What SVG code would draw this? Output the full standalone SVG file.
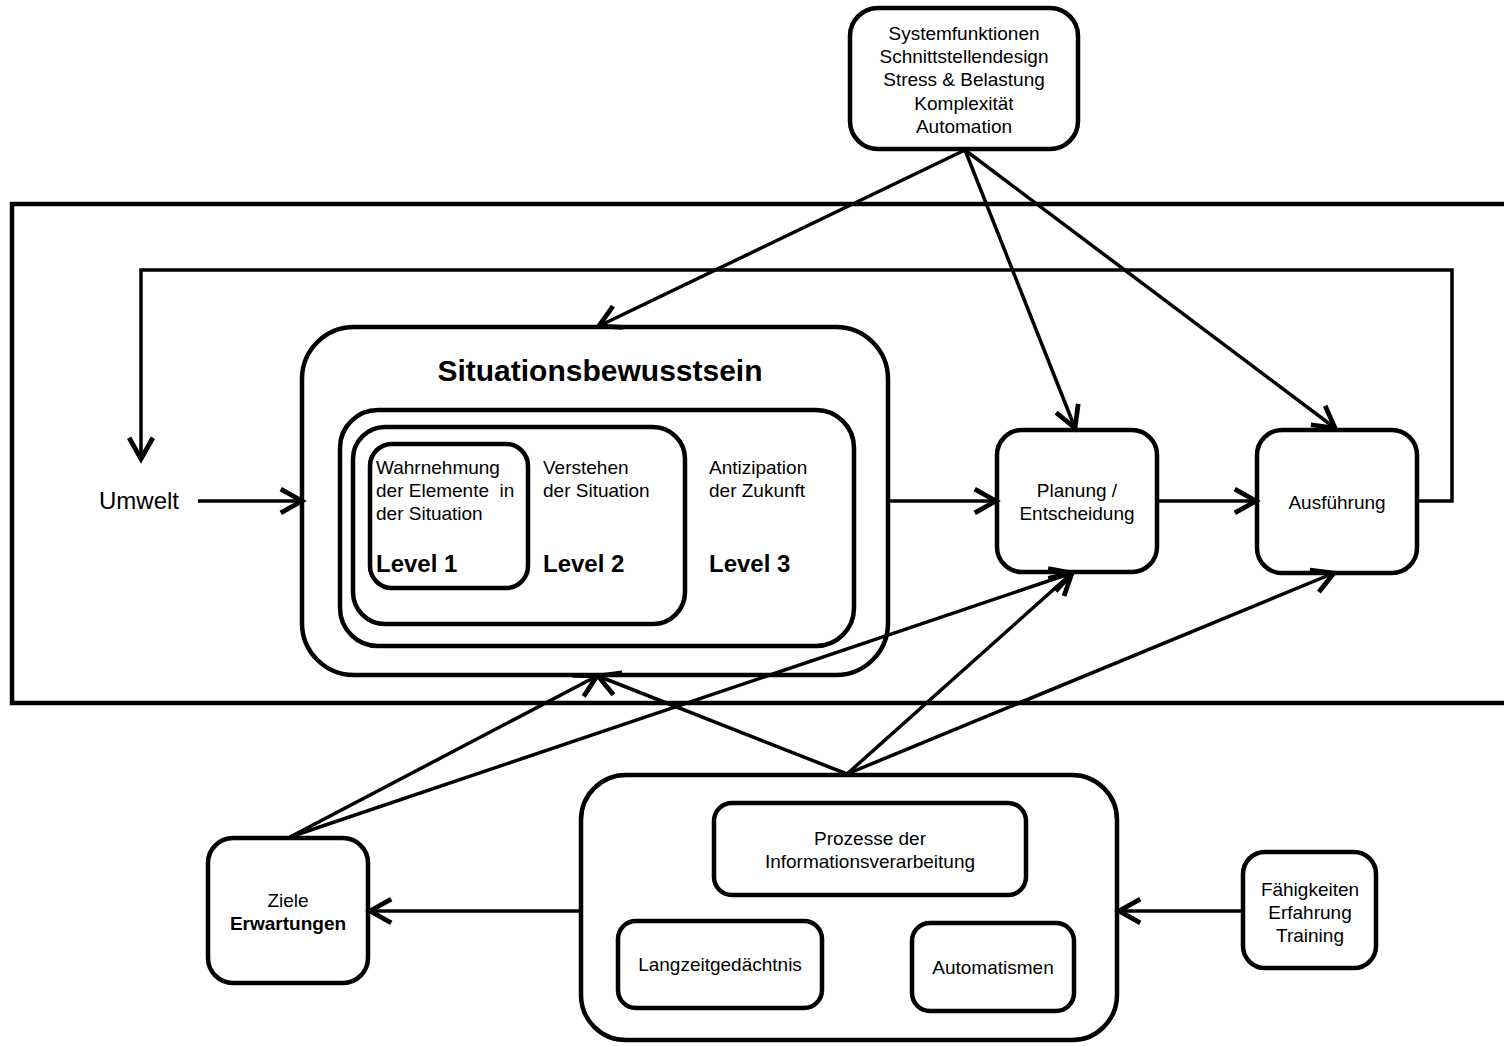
<svg xmlns="http://www.w3.org/2000/svg" width="1504" height="1046" viewBox="0 0 1504 1046">
  <style>
    .box { fill: #fff; stroke: #000; stroke-width: 4.5; }
    .frame { fill: none; stroke: #000; stroke-width: 4.5; }
    .link { fill: none; stroke: #000; stroke-width: 3.5; marker-end: url(#chev); }
    text { font-family: "Liberation Sans", Arial, sans-serif; fill: #000; }
    .t { font-size: 19px; }
    .c { text-anchor: middle; }
    .lvl { font-size: 24px; font-weight: bold; }
    .title { font-size: 30px; font-weight: bold; }
    .b { font-weight: bold; }
  </style>
  <defs>
    <marker id="chev" markerUnits="userSpaceOnUse" markerWidth="30" markerHeight="30" viewBox="-20 -12 24 24" refX="0" refY="0" orient="auto">
      <path d="M-17,-9.5 L0,0 L-17,9.5" fill="none" stroke="#000" stroke-width="3.8" stroke-linejoin="miter"/>
    </marker>
  </defs>

  <rect width="1504" height="1046" fill="#fff"/>

  <!-- system frame, open to the right -->
  <path class="frame" d="M1510,204 H12 V703 H1510"/>

  <g id="factors">
    <rect class="box" x="850" y="8" width="228" height="141" rx="28"/>
    <text class="t c" x="964" y="40">Systemfunktionen</text>
    <text class="t c" x="964" y="63">Schnittstellendesign</text>
    <text class="t c" x="964" y="86">Stress &amp; Belastung</text>
    <text class="t c" x="964" y="110">Komplexität</text>
    <text class="t c" x="964" y="133">Automation</text>
  </g>

  <g id="umwelt">
    <text x="99" y="509" font-size="24">Umwelt</text>
  </g>

  <g id="situationsbewusstsein">
    <rect class="box" x="302" y="327" width="586" height="348" rx="52"/>
    <text class="title c" x="600" y="381">Situationsbewusstsein</text>
    <rect class="box" x="340" y="410" width="514" height="236" rx="38"/>
    <rect class="box" x="353" y="427" width="332" height="197" rx="32"/>
    <rect class="box" x="370" y="444" width="158" height="144" rx="22"/>
    <g id="level1">
      <text class="t" x="376" y="474">Wahrnehmung</text>
      <text class="t" x="376" y="497" xml:space="preserve">der Elemente  in</text>
      <text class="t" x="376" y="520">der Situation</text>
      <text class="lvl" x="376" y="572">Level 1</text>
    </g>
    <g id="level2">
      <text class="t" x="543" y="474">Verstehen</text>
      <text class="t" x="543" y="497">der Situation</text>
      <text class="lvl" x="543" y="572">Level 2</text>
    </g>
    <g id="level3">
      <text class="t" x="709" y="474">Antizipation</text>
      <text class="t" x="709" y="497">der Zukunft</text>
      <text class="lvl" x="709" y="572">Level 3</text>
    </g>
  </g>

  <g id="planung">
    <rect class="box" x="997" y="430" width="160" height="142" rx="25"/>
    <text class="t c" x="1077" y="497">Planung /</text>
    <text class="t c" x="1077" y="520">Entscheidung</text>
  </g>

  <g id="ausfuehrung">
    <rect class="box" x="1257" y="430" width="160" height="143" rx="25"/>
    <text class="t c" x="1337" y="509">Ausführung</text>
  </g>

  <g id="ziele">
    <rect class="box" x="208" y="838" width="160" height="145" rx="25"/>
    <text class="t c" x="288" y="907">Ziele</text>
    <text class="t c b" x="288" y="930">Erwartungen</text>
  </g>

  <g id="informationsverarbeitung">
    <rect class="box" x="581" y="775" width="536" height="265" rx="45"/>
    <g id="prozesse">
      <rect class="box" x="714" y="803" width="312" height="92" rx="18"/>
      <text class="t c" x="870" y="845">Prozesse der</text>
      <text class="t c" x="870" y="868">Informationsverarbeitung</text>
    </g>
    <g id="langzeitgedaechtnis">
      <rect class="box" x="618" y="921" width="204" height="87" rx="18"/>
      <text class="t c" x="720" y="971">Langzeitgedächtnis</text>
    </g>
    <g id="automatismen">
      <rect class="box" x="912" y="923" width="162" height="88" rx="18"/>
      <text class="t c" x="993" y="974">Automatismen</text>
    </g>
  </g>

  <g id="faehigkeiten">
    <rect class="box" x="1243" y="852" width="133" height="116" rx="22"/>
    <text class="t c" x="1310" y="896">Fähigkeiten</text>
    <text class="t c" x="1310" y="919">Erfahrung</text>
    <text class="t c" x="1310" y="942">Training</text>
  </g>

  <!-- connectors, drawn last so crossings stay visible over boxes -->
  <g id="connectors">
    <line class="link" x1="198" y1="501" x2="302" y2="501"/>
    <line class="link" x1="888" y1="501" x2="996" y2="501"/>
    <line class="link" x1="1157" y1="501" x2="1256" y2="501"/>
    <polyline class="link" points="1417,501 1452,501 1452,270 141,270 141,459"/>
    <line class="link" x1="965" y1="150" x2="599" y2="326"/>
    <line class="link" x1="965" y1="150" x2="1075" y2="428"/>
    <line class="link" x1="965" y1="150" x2="1335" y2="428"/>
    <line class="link" x1="290" y1="837" x2="597" y2="676"/>
    <line class="link" x1="290" y1="837" x2="1072" y2="573"/>
    <line class="link" x1="847" y1="774" x2="598" y2="676"/>
    <line class="link" x1="847" y1="774" x2="1072" y2="573"/>
    <line class="link" x1="847" y1="774" x2="1334" y2="573"/>
    <line class="link" x1="581" y1="911" x2="370" y2="911"/>
    <line class="link" x1="1243" y1="911" x2="1119" y2="911"/>
  </g>
</svg>
